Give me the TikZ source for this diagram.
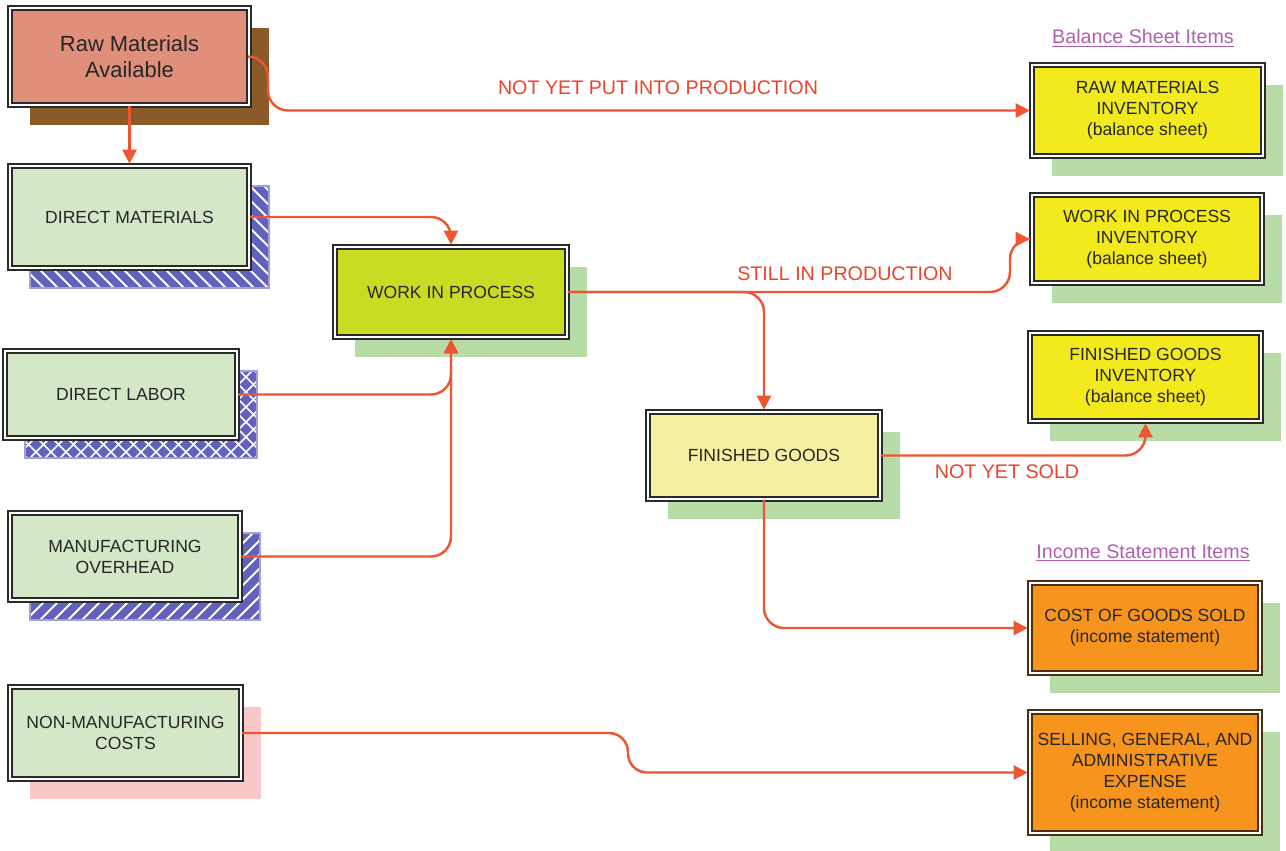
\documentclass[tikz,border=0pt]{standalone}
\usepackage{fontspec}
\setmainfont{Liberation Sans}
\usetikzlibrary{arrows.meta}
\definecolor{rmfill}{HTML}{E0907A}
\definecolor{rmshadow}{HTML}{8C5A28}
\definecolor{greenfill}{HTML}{D4E8C8}
\definecolor{hatchblue}{HTML}{6262BE}
\definecolor{wipfill}{HTML}{C8DC24}
\definecolor{fgfill}{HTML}{F5F0A0}
\definecolor{yellowfill}{HTML}{F2EA1C}
\definecolor{orangefill}{HTML}{F7941E}
\definecolor{greenshadow}{HTML}{B8DCA8}
\definecolor{pinkshadow}{HTML}{F8C8C8}
\definecolor{arrowred}{HTML}{EE5532}
\definecolor{labelred}{HTML}{E8452C}
\definecolor{titlepurple}{HTML}{B060B0}
\definecolor{borderdark}{HTML}{2A2A2A}
\definecolor{borderbrown}{HTML}{4A3010}
\newcommand\mybox[8]{%
  \path[#6] (#2+20,#3+20) rectangle (#4+20,#5+20);
  \node[boxbase,#7,minimum width={(#4-#2)*0.02cm},minimum height={(#5-#3)*0.02cm}] (#1) at ({(#2+#4)/2},{(#3+#5)/2}) {#8};
}
% hatched shadow: x0 y0 x1 y1 type (1 = \ lines, 2 = / lines, 3 = cross)
\newcommand\hatchshadow[5]{%
  \fill[hatchblue] (#1,#2) rectangle (#3,#4);
  \begin{scope}
    \clip (#1,#2) rectangle (#3,#4);
    \ifcase#5\or
      \foreach \k in {-130,-116,...,270} \draw[hatchline] ({#1+\k},#2) -- ++(130,130);
    \or
      \foreach \k in {-130,-116,...,270} \draw[hatchline] ({#1+\k},#4) -- ++(130,-130);
    \or
      \foreach \k in {-130,-115,...,270} \draw[hatchline, line width=0.9pt] ({#1+\k},#2) -- ++(130,130);
      \foreach \k in {-130,-115,...,270} \draw[hatchline, line width=0.9pt] ({#1+\k},#4) -- ++(130,-130);
    \fi
  \end{scope}
  \draw[hatchblue!60!white, line width=0.6pt] (#1,#2) rectangle (#3,#4);
}
\begin{document}
\begin{tikzpicture}[x=0.02cm,y=-0.02cm,
  boxbase/.style={draw=borderdark, double=white, double distance=1.1pt, line width=1pt,
    align=center, inner sep=0pt, text=black!85, font=\fontsize{10}{12}\selectfont},
  greenbox/.style={fill=greenfill},
  orangebox/.style={fill=orangefill, draw=borderbrown},
  shgreen/.style={fill=greenshadow},
  shpink/.style={fill=pinkshadow},
  shbrown/.style={fill=rmshadow},
  shnone/.style={},
  hatchline/.style={draw=white, line width=1.1pt},
  conn/.style={draw=arrowred, line width=1.4pt, rounded corners=0.4cm, -{Triangle[length=8pt,width=8pt]}, shorten >=0.8pt},
  lbl/.style={text=labelred, font=\fontsize{11.2}{13}\selectfont, inner sep=0pt},
  ttl/.style={text=titlepurple, font=\fontsize{11.2}{13}\selectfont, inner sep=0pt}]
\useasboundingbox (0,0) rectangle (1286,850);

% left column
\mybox{rm}{10}{8}{249}{105}{shbrown}{fill=rmfill,font=\fontsize{12.5}{15}\selectfont}{Raw Materials\\Available}
\hatchshadow{30}{186}{269}{288}{1}
\mybox{dm}{10}{166}{249}{268}{shnone}{greenbox}{DIRECT MATERIALS}
\hatchshadow{25}{371}{257}{458}{3}
\mybox{dl}{5}{351}{237}{438}{shnone}{greenbox}{DIRECT LABOR}
\hatchshadow{30}{533}{260}{620}{2}
\mybox{mo}{10}{513}{240}{600}{shnone}{greenbox}{MANUFACTURING\\OVERHEAD}
\mybox{nmc}{10}{687}{241}{779}{shpink}{greenbox}{NON-MANUFACTURING\\COSTS}

% middle
\mybox{wip}{335}{247}{567}{337}{shgreen}{fill=wipfill}{WORK IN PROCESS}
\mybox{fg}{648}{412}{880}{499}{shgreen}{fill=fgfill}{FINISHED GOODS}

% right column
\mybox{rmi}{1032}{65}{1263}{156}{shgreen}{fill=yellowfill}{RAW MATERIALS\\INVENTORY\\(balance sheet)}
\mybox{wipi}{1032}{195}{1262}{283}{shgreen}{fill=yellowfill}{WORK IN PROCESS\\INVENTORY\\(balance sheet)}
\mybox{fgi}{1030}{333}{1261}{421}{shgreen}{fill=yellowfill}{FINISHED GOODS\\INVENTORY\\(balance sheet)}
\mybox{cogs}{1030}{583}{1260}{673}{shgreen}{orangebox}{COST OF GOODS SOLD\\(income statement)}
\mybox{sga}{1030}{712}{1260}{833}{shgreen}{orangebox}{SELLING, GENERAL, AND\\ADMINISTRATIVE\\EXPENSE\\(income statement)}

% titles
\node[ttl] (bsi) at (1143,38) {\underline{Balance Sheet Items}};
\node[ttl] (isi) at (1143,553) {\underline{Income Statement Items}};

% connectors
\coordinate (c1a) at (268,56.5);
\coordinate (c1b) at (268,110.5);
\draw[conn] (rm.east) -- (c1a) -- (c1b) -- (rmi.west);
\draw[conn] (rm.south) -- (dm.north);
\draw[conn] (dm.east) -| (wip.north);
\draw[conn] (dl.east) -| (wip.south);
\draw[conn] (mo.east) -| (wip.south);
\draw[conn] (wip.east) -| (fg.north);
\coordinate (c2a) at (1010,292);
\coordinate (c2b) at (1010,239);
\draw[conn] (wip.east) -- (c2a) -- (c2b) -- (wipi.west);
\draw[conn] (fg.east) -| (fgi.south);
\draw[conn] (fg.south) |- (cogs.west);
\coordinate (c3a) at (628,733);
\coordinate (c3b) at (628,772.5);
\draw[conn, rounded corners=0.38cm] (nmc.east) -- (c3a) -- (c3b) -- (sga.west);

% labels
\node[lbl] (l1) at (658,88) {NOT YET PUT INTO PRODUCTION};
\node[lbl] (l2) at (845,274) {STILL IN PRODUCTION};
\node[lbl] (l3) at (1007,472) {NOT YET SOLD};
\end{tikzpicture}
\end{document}
